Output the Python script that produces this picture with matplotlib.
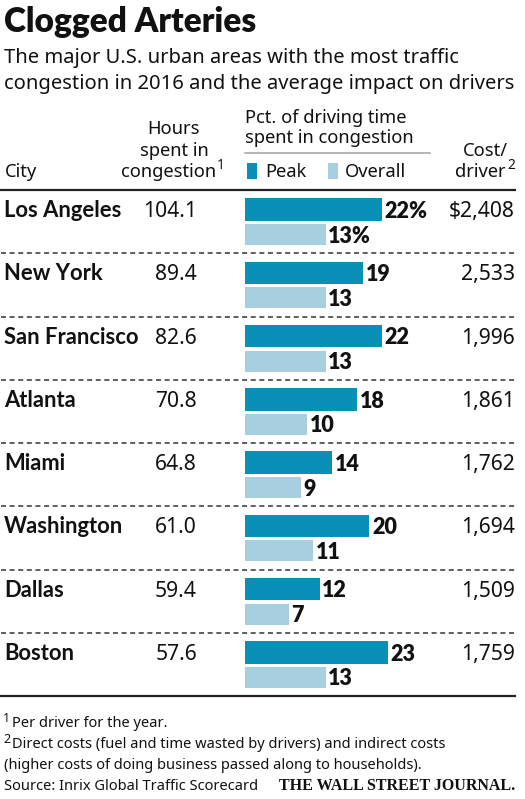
import matplotlib
matplotlib.use('Agg')
import matplotlib.pyplot as plt
from matplotlib.patches import Rectangle
from matplotlib.transforms import blended_transform_factory

# ---- data ----
cities = ["Los Angeles", "New York", "San Francisco", "Atlanta", "Miami",
          "Washington", "Dallas", "Boston"]
hours = [104.1, 89.4, 82.6, 70.8, 64.8, 61.0, 59.4, 57.6]
peak = [22, 19, 22, 18, 14, 20, 12, 23]
overall = [13, 13, 13, 10, 9, 11, 7, 13]
cost = [2408, 2533, 1996, 1861, 1762, 1694, 1509, 1759]

title = "Clogged Arteries"
subtitle = ["The major U.S. urban areas with the most traffic",
            "congestion in 2016 and the average impact on drivers"]
notes = ["Per driver for the year.",
         "Direct costs (fuel and time wasted by drivers) and indirect costs",
         "(higher costs of doing business passed along to households).",
         "Source: Inrix Global Traffic Scorecard"]

PEAK_C = "#0a8fb6"
OVER_C = "#a7cfe0"
TXT = "#111111"
BODY = ['Noto Sans', 'DejaVu Sans']
HEAVY = ['Lato', 'DejaVu Sans']
plt.rcParams['font.family'] = BODY
plt.rcParams['lines.scale_dashes'] = False

W, H = 525, 799
fig = plt.figure(figsize=(W / 100, H / 100), dpi=100)
ax = fig.add_axes([0, 0, 1, 1])
ax.set_xlim(0, W)
ax.set_ylim(H, 0)
ax.axis('off')

# bar panel
top, bottom = 190, 696
left, right = 245, 515
pxper = 6.22
n = len(cities)
bx = fig.add_axes([left / W, 1 - bottom / H, (right - left) / W, (bottom - top) / H])
bx.set_xlim(0, (right - left) / pxper)
bx.set_ylim(n, 0)
bx.axis('off')

rowpx = (bottom - top) / n
pk_off, ov_off = 0.312, 0.704
pk_h, ov_h = 0.356, 0.332
base_off = 7.5 / rowpx

ys_p = [i + pk_off for i in range(n)]
ys_o = [i + ov_off for i in range(n)]
bx.barh(ys_p, peak, height=pk_h, color=PEAK_C, left=0)
bx.barh(ys_o, overall, height=ov_h, color=OVER_C, left=0)

lab_dx = 2.5 / pxper
for i in range(n):
    sfx = "%" if i == 0 else ""
    bx.text(peak[i] + lab_dx, ys_p[i] + base_off + 0.01, f"{peak[i]}{sfx}", ha='left',
            va='baseline', fontsize=15.5, fontweight='heavy', family=HEAVY,
            color=TXT, clip_on=False)
    bx.text(overall[i] + lab_dx, ys_o[i] + base_off + 0.01, f"{overall[i]}{sfx}", ha='left',
            va='baseline', fontsize=15.5, fontweight='heavy', family=HEAVY,
            color=TXT, clip_on=False)

tr = blended_transform_factory(ax.transData, bx.transData)
rs = 15.2
for i in range(n):
    yb = ys_p[i] + base_off
    ax.text(4, yb, cities[i], transform=tr, ha='left', va='baseline',
            fontsize=15.8, fontweight='bold', family=HEAVY, color=TXT)
    ax.text(197, yb, f"{hours[i]:.1f}", transform=tr, ha='right', va='baseline',
            fontsize=rs, color=TXT)
    cs = f"${cost[i]:,}" if i == 0 else f"{cost[i]:,}"
    ax.text(515, yb, cs, transform=tr, ha='right', va='baseline',
            fontsize=rs, color=TXT)

# separators
for i in range(1, n):
    ax.plot([1, 515], [i, i], transform=tr, color='#333333', lw=1.1,
            linestyle=(0, (3.6, 2.6)), solid_capstyle='butt')
ax.plot([0, 515], [0, 0], transform=tr, color='#222222', lw=1.6)
ax.plot([0, 515], [n, n], transform=tr, color='#222222', lw=1.6)

# title & subtitle
ax.text(4, 32, title, ha='left', va='baseline', fontsize=24, fontweight='heavy',
        family=HEAVY, color=TXT)
ax.text(4, 63, subtitle[0], ha='left', va='baseline', fontsize=14.5, color=TXT)
ax.text(4, 89, subtitle[1], ha='left', va='baseline', fontsize=14.5, color=TXT)

# headers
hs = 13.2
ax.text(5, 177, "City", ha='left', va='baseline', fontsize=hs, color=TXT)
ax.text(173.5, 134, "Hours", ha='center', va='baseline', fontsize=hs, color=TXT)
ax.text(174.5, 156, "spent in", ha='center', va='baseline', fontsize=hs, color=TXT)
ax.text(216, 177, "congestion", ha='right', va='baseline', fontsize=hs, color=TXT)
ax.text(217, 169, "1", ha='left', va='baseline', fontsize=10, color=TXT)
ax.text(245, 123, "Pct. of driving time", ha='left', va='baseline', fontsize=hs, color=TXT)
ax.text(245, 143, "spent in congestion", ha='left', va='baseline', fontsize=hs, color=TXT)
ax.plot([245, 430], [153, 153], color='#aaaaaa', lw=1.2)
ax.add_patch(Rectangle((247, 163), 10, 16, color=PEAK_C, lw=0))
ax.text(265, 177, "Peak", ha='left', va='baseline', fontsize=hs, color=TXT)
ax.add_patch(Rectangle((328, 163), 10, 16, color=OVER_C, lw=0))
ax.text(345, 177, "Overall", ha='left', va='baseline', fontsize=hs, color=TXT)
ax.text(485.5, 156, "Cost/", ha='center', va='baseline', fontsize=hs, color=TXT)
ax.text(506, 177, "driver", ha='right', va='baseline', fontsize=hs, color=TXT)
ax.text(507, 169, "2", ha='left', va='baseline', fontsize=10, color=TXT)

# footnotes
fs = 10.55
ax.text(3, 722, "1", ha='left', va='baseline', fontsize=9, color=TXT)
ax.text(12, 727, notes[0], ha='left', va='baseline', fontsize=fs, color=TXT)
ax.text(3, 743, "2", ha='left', va='baseline', fontsize=9, color=TXT)
ax.text(12, 748, notes[1], ha='left', va='baseline', fontsize=fs, color=TXT)
ax.text(4, 769, notes[2], ha='left', va='baseline', fontsize=fs, color=TXT)
ax.text(4, 790, notes[3], ha='left', va='baseline', fontsize=fs, color=TXT)
ax.text(515, 790, "THE WALL STREET JOURNAL.", ha='right', va='baseline', fontsize=11.5,
        fontweight='bold', family=['Liberation Serif', 'DejaVu Serif'], color=TXT)

fig.savefig("out.png", dpi=100)
